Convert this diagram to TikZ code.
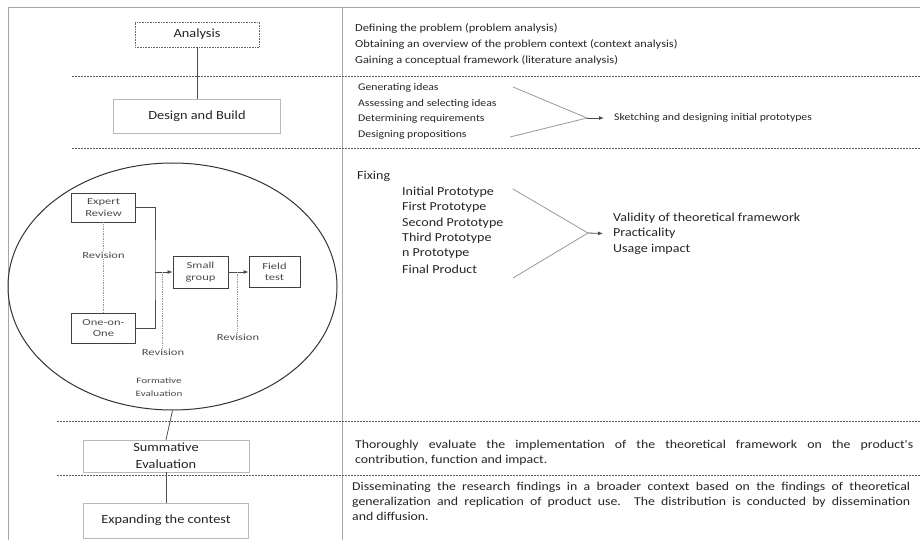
\documentclass[tikz,border=0pt]{standalone}
\usepackage{fontspec}
\setmainfont{Carlito}
\newfontfamily\wa[FakeStretch=1.15]{Carlito}
\newfontfamily\wb[FakeStretch=1.35]{Carlito}
\usetikzlibrary{shapes.geometric,arrows.meta}
\begin{document}
\begin{tikzpicture}[x=1pt,y=-1pt,
  txtA/.style={anchor=west,inner sep=0pt,font=\wa\fontsize{10.8}{15}\selectfont,text=black!85},
  txtB/.style={anchor=west,inner sep=0pt,font=\wa\fontsize{10.2}{15}\selectfont,text=black!85},
  txtC/.style={anchor=west,inner sep=0pt,font=\wa\fontsize{12.2}{15}\selectfont,text=black!85},
  para/.style={anchor=north west,inner sep=0pt,align=justify,text width=558pt,font=\wa\fontsize{12}{15}\selectfont,text=black!85},
  stagebox/.style={draw=gray!55,line width=0.6pt,inner sep=0pt,align=center,font=\wa\fontsize{12.5}{17}\selectfont,text=black!85},
  smallbox/.style={draw=black!75,line width=0.9pt,inner sep=0pt,align=center,font=\wb\fontsize{9.3}{11.5}\selectfont,text=black!70},
  revlabel/.style={inner sep=1pt,fill=white,font=\wb\fontsize{9.3}{11}\selectfont,text=black!70},
  sepline/.style={draw=black!65,line width=0.7pt,dash pattern=on 2pt off 1pt},
  frameline/.style={draw=gray!70,line width=0.8pt},
  link/.style={draw=black!70,line width=0.8pt},
  conv/.style={draw=gray!80,line width=0.8pt},
  tip/.style={-{Latex[length=5pt,width=4pt]}},
  revline/.style={draw=gray!80,line width=0.7pt,densely dotted}]
\useasboundingbox (0,0) rectangle (920,540);
\fill[white] (0,0) rectangle (920,540);

% frame and column divider
\draw[frameline] (8,540) -- (8,7) -- (920,7);
\draw[frameline] (342,7) -- (342,540);

% section separators
\draw[sepline] (72,76) -- (920,76);
\draw[sepline] (72,148) -- (920,148);
\draw[sepline] (57,421) -- (920,421);
\draw[sepline] (57,475) -- (920,475);

% left column stage boxes
\node[stagebox,draw=black!60,densely dotted,minimum width=124pt,minimum height=25pt] (analysis) at (197,34.5) {Analysis};
\node[stagebox,minimum width=167pt,minimum height=34pt] (design) at (197,116) {Design and Build};
\draw[link] (analysis) -- (design);

\node[draw=black!80,line width=1pt,ellipse,minimum width=329pt,minimum height=247pt,inner sep=0pt] (formative) at (172.5,286.5) {};

\node[stagebox,minimum width=166pt,minimum height=32pt] (summative) at (166,456) {Summative\\Evaluation};
\node[stagebox,minimum width=165pt,minimum height=35pt] (expanding) at (166,520.5) {Expanding the contest};
\draw[link] (formative.south) -- (summative.north);
\draw[link] (summative) -- (expanding);

% formative evaluation contents
\node[smallbox,minimum width=64pt,minimum height=29pt] (expert) at (103.5,207.5) {Expert\\Review};
\node[smallbox,minimum width=64pt,minimum height=30pt] (oneonone) at (103.5,328) {One-on-\\One};
\node[smallbox,minimum width=55pt,minimum height=32pt] (small) at (200.5,272) {Small\\group};
\node[smallbox,minimum width=51pt,minimum height=31pt] (field) at (274.5,272) {Field\\test};
\node[align=center,inner sep=0pt,font=\wb\fontsize{8.2}{12.5}\selectfont,text=black!70] (formlabel) at (159,387) {Formative\\Evaluation};

\coordinate (join) at (155,272);
\draw[link] (expert.east) -| (join) |- (oneonone.east);
\draw[link,tip] (join) -- (small.west);
\draw[link,tip] (small.east) -- (field.west);

\node[revlabel] (rev0) at (103.5,255) {Revision};
\draw[revline] (expert.south) -- (rev0.north);
\draw[revline] (rev0.south) -- (oneonone.north);

\coordinate (r1) at (162,272);
\node[revlabel] (rev1) at (163,352) {Revision};
\draw[revline] (r1) -- (rev1.north -| r1);

\coordinate (r2) at (237.5,272);
\node[revlabel] (rev2) at (238,337) {Revision};
\draw[revline] (r2) -- (rev2.north -| r2);

% right column: analysis
\node[txtA] (a1) at (355,28) {Defining the problem (problem analysis)};
\node[txtA] (a2) at (355,44) {Obtaining an overview of the problem context (context analysis)};
\node[txtA] (a3) at (355,60) {Gaining a conceptual framework (literature analysis)};

% right column: design and build
\node[txtB] (d1) at (358,88) {Generating ideas};
\node[txtB] (d2) at (358,103.5) {Assessing and selecting ideas};
\node[txtB] (d3) at (358,119) {Determining requirements};
\node[txtB] (d4) at (358,134.5) {Designing propositions};
\coordinate (dtop) at (513,87);
\coordinate (dbot) at (510,137);
\coordinate (dmeet) at (587,118);
\node[txtB] (sketch) at (614,118) {Sketching and designing initial prototypes};
\draw[conv] (dtop) -- (dmeet) -- (dbot);
\draw[link,tip] (dmeet) -- (sketch.west -| 604,0);

% right column: formative
\node[txtC] (fix) at (357,176) {Fixing};
\node[txtC] (p1) at (402,192) {Initial Prototype};
\node[txtC] (p2) at (402,207.5) {First Prototype};
\node[txtC] (p3) at (402,223) {Second Prototype};
\node[txtC] (p4) at (402,238.5) {Third Prototype};
\node[txtC] (p5) at (402,254) {n Prototype};
\node[txtC] (p6) at (402,269.5) {Final Product};
\coordinate (ptop) at (513,189);
\coordinate (pbot) at (513,278);
\coordinate (pmeet) at (588,233);
\node[txtC] (v1) at (613,218) {Validity of theoretical framework};
\node[txtC] (v2) at (613,233.5) {Practicality};
\node[txtC] (v3) at (613,249) {Usage impact};
\draw[conv] (ptop) -- (pmeet) -- (pbot);
\draw[link,tip] (pmeet) -- (v2.west -| 603,0);

% right column: summative and expanding
\node[para] (sumtext) at (355,440) {Thoroughly evaluate the implementation of the theoretical framework on the product's\linebreak contribution, function and impact.};
\node[para] (exptext) at (352,482) {Disseminating the research findings in a broader context based on the findings of theoretical\linebreak generalization and replication of product use. The distribution is conducted by dissemination\linebreak and diffusion.};
\end{tikzpicture}
\end{document}
